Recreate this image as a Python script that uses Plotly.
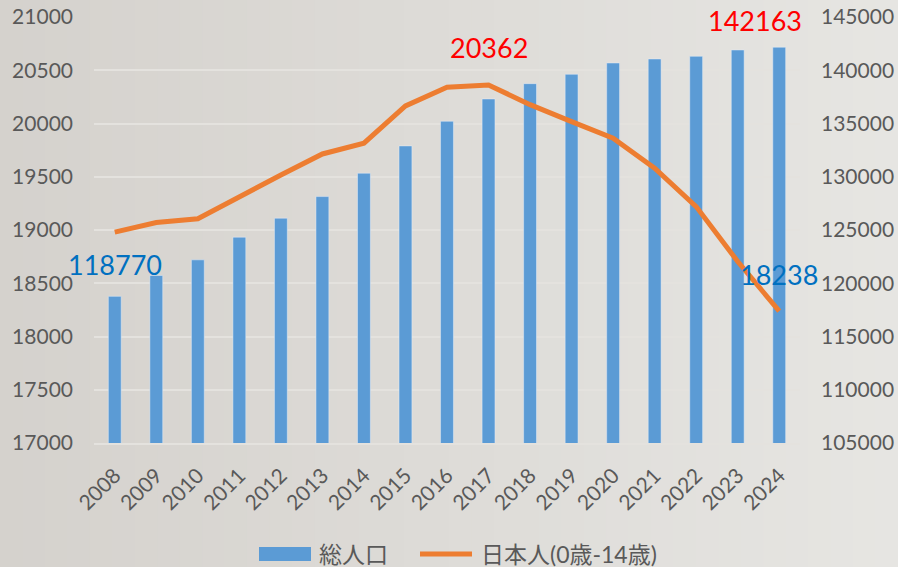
import plotly.graph_objects as go

years = [str(y) for y in range(2008, 2025)]
total_pop = [118770, 120725, 122198, 124328, 126111, 128138, 130333, 132895, 135212,
             137304, 138740, 139622, 140682, 141058, 141311, 141902, 142163]
children = [18980, 19070, 19105, 19314, 19517, 19714, 19815, 20165, 20340,
            20362, 20177, 20018, 19862, 19580, 19220, 18704, 18238]
names = ["総人口", "日本人(0歳-14歳)"]

W, H = 898, 567
ML, MR, MT, MB = 94, 98, 17, 124
pw, ph = W - ML - MR, H - MT - MB

FONT = "Lato, 'Noto Sans CJK JP', sans-serif"
GREY = "#595959"
GRID = "#e4e2de"
BLUE = "#5B9BD5"
ORANGE = "#ED7D31"

fig = go.Figure()
fig.add_trace(go.Bar(x=years, y=total_pop, name=names[0], marker_color=BLUE,
                     yaxis="y", showlegend=False))
fig.add_trace(go.Scatter(x=years, y=children, name=names[1], mode="lines",
                         line=dict(color=ORANGE, width=5), yaxis="y2", showlegend=False))

def px_x(p):
    return (p - ML) / pw

def px_y(p):
    return (H - MB - p) / ph

# gradient background strips
def lerp(a, b, t):
    return int(round(a + (b - a) * t))
c0 = (0xd5, 0xd2, 0xcd)
c1 = (0xe6, 0xe5, 0xe2)
shapes = []
N = 40
x_left = px_x(0)
x_right = px_x(W)
for i in range(N):
    t = i / (N - 1)
    col = "rgb(%d,%d,%d)" % tuple(lerp(c0[k], c1[k], t) for k in range(3))
    xa = x_left + (x_right - x_left) * i / N
    xb = x_left + (x_right - x_left) * (i + 1) / N + 0.002
    shapes.append(dict(type="rect", xref="paper", yref="paper", x0=xa, x1=xb,
                       y0=px_y(H), y1=px_y(0), fillcolor=col, line_width=0,
                       layer="below"))

# custom legend
LEG_Y = 554
shapes.append(dict(type="rect", xref="paper", yref="paper", x0=px_x(259), x1=px_x(311),
                   y0=px_y(LEG_Y + 7), y1=px_y(LEG_Y - 7), fillcolor=BLUE, line_width=0))
shapes.append(dict(type="line", xref="paper", yref="paper", x0=px_x(420), x1=px_x(472),
                   y0=px_y(LEG_Y), y1=px_y(LEG_Y), line=dict(color=ORANGE, width=5)))

ann_font = dict(family=FONT, size=27)
annotations = [
    dict(x=16, y=total_pop[-1], xref="x", yref="y", text=str(total_pop[-1]),
         showarrow=False, font=dict(color="#FF0000", **ann_font), xshift=-24, yshift=27),
    dict(x=9, y=children[9], xref="x", yref="y2", text=str(children[9]),
         showarrow=False, font=dict(color="#FF0000", **ann_font), xshift=0, yshift=37),
    dict(x=0, y=total_pop[0], xref="x", yref="y", text=str(total_pop[0]),
         showarrow=False, font=dict(color="#0070C0", **ann_font), xshift=0, yshift=32),
    dict(x=16, y=children[-1], xref="x", yref="y2", text=str(children[-1]),
         showarrow=False, font=dict(color="#0070C0", **ann_font), xshift=0, yshift=37),
    dict(x=px_x(317), y=px_y(LEG_Y), xref="paper", yref="paper", text=names[0],
         showarrow=False, xanchor="left", yanchor="middle",
         font=dict(family=FONT, size=23, color=GREY)),
    dict(x=px_x(479), y=px_y(LEG_Y), xref="paper", yref="paper", text=names[1],
         showarrow=False, xanchor="left", yanchor="middle",
         font=dict(family=FONT, size=23, color=GREY)),
]

fig.update_layout(
    width=W, height=H,
    margin=dict(l=ML, r=MR, t=MT, b=MB, pad=0),
    paper_bgcolor="#dcd9d5", plot_bgcolor="rgba(0,0,0,0)",
    font=dict(family=FONT, color=GREY),
    bargap=0.69,
    shapes=shapes,
    annotations=annotations,
    showlegend=False,
    xaxis=dict(type="category", range=[-0.5, len(years) - 0.5], autorange=False,
               tickangle=-45, tickfont=dict(size=21, color=GREY),
               showgrid=False, showline=True, linecolor=GRID, linewidth=2, ticks="",
               automargin=False, ticklabelstandoff=10),
    yaxis=dict(side="right", range=[105000, 145000], autorange=False, dtick=5000,
               showgrid=True, gridcolor=GRID, gridwidth=2, zeroline=False, showline=False,
               tickfont=dict(size=21, color=GREY), ticks="", tickformat="d",
               automargin=False, ticklabelstandoff=20),
    yaxis2=dict(side="left", overlaying="y", range=[17000, 21000], autorange=False,
                dtick=500, showgrid=False, zeroline=False, showline=False,
                tickfont=dict(size=21, color=GREY), ticks="", tickformat="d",
                automargin=False, ticklabelstandoff=20),
)

fig.write_html("out.html")
